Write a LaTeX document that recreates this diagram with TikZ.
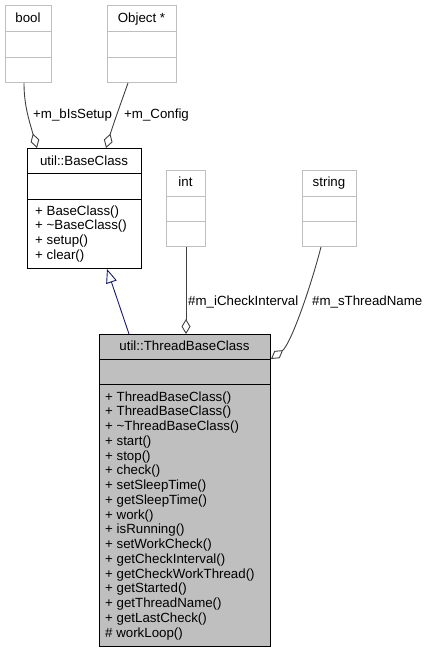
\documentclass[tikz,border=0pt]{standalone}
\usepackage{fontspec}
\setmainfont{Liberation Sans}
\usetikzlibrary{arrows.meta}
\definecolor{EdgeGray}{RGB}{64,64,64}
\definecolor{BoxGray}{RGB}{191,191,191}
\definecolor{InhBlue}{RGB}{25,25,112}

\begin{document}
\begin{tikzpicture}[x=1pt, y=-1pt, font=\fontsize{13.3}{14.7}\selectfont,
    typebox/.style={draw=BoxGray, fill=white, line width=1pt, anchor=north west, inner sep=0pt},
    classbox/.style={draw=black, line width=1pt, anchor=north west, inner sep=0pt},
    txt/.style={inner sep=0pt, anchor=base},
    meth/.style={inner sep=0pt, anchor=base west},
    aggr/.style={draw=EdgeGray, line width=0.9pt, {Diamond[open, length=15pt, width=9pt]}-},
    inh/.style={draw=InhBlue, line width=0.9pt, {Triangle[open, length=14pt, width=11pt]}-}]
          \path[use as bounding box, fill=white] (0,0) rectangle (424,651);
          % member types
          \node[typebox, minimum width=46, minimum height=77] (bool) at (5,5) {};
          \draw[BoxGray, line width=1pt] ([yshift=-26pt]bool.north west) -- ([yshift=-26pt]bool.north east);
          \draw[BoxGray, line width=1pt] ([yshift=-52pt]bool.north west) -- ([yshift=-52pt]bool.north east);
          \node[txt] (boolname) at (28,22) {bool};
          \node[typebox, minimum width=69, minimum height=77] (obj) at (107,5) {};
          \draw[BoxGray, line width=1pt] ([yshift=-26pt]obj.north west) -- ([yshift=-26pt]obj.north east);
          \draw[BoxGray, line width=1pt] ([yshift=-52pt]obj.north west) -- ([yshift=-52pt]obj.north east);
          \node[txt] (objname) at (141.5,22) {Object *};
          \node[typebox, minimum width=39, minimum height=76] (int) at (166,170) {};
          \draw[BoxGray, line width=1pt] ([yshift=-26pt]int.north west) -- ([yshift=-26pt]int.north east);
          \draw[BoxGray, line width=1pt] ([yshift=-51pt]int.north west) -- ([yshift=-51pt]int.north east);
          \node[txt] (intname) at (185.5,186) {int};
          \node[typebox, minimum width=54, minimum height=76] (str) at (302,170) {};
          \draw[BoxGray, line width=1pt] ([yshift=-26pt]str.north west) -- ([yshift=-26pt]str.north east);
          \draw[BoxGray, line width=1pt] ([yshift=-51pt]str.north west) -- ([yshift=-51pt]str.north east);
          \node[txt] (strname) at (329,186) {string};
          % base class
          \node[classbox, fill=white, minimum width=114, minimum height=120] (base) at (27,148) {};
          \draw[line width=1pt] ([yshift=-25pt]base.north west) -- ([yshift=-25pt]base.north east);
          \draw[line width=1pt] ([yshift=-51pt]base.north west) -- ([yshift=-51pt]base.north east);
          \node[txt] (basename) at (84,165) {util::BaseClass};
          \foreach \m [count=\i from 0] in {+ BaseClass(), + \textasciitilde BaseClass(), + setup(), + clear()}
            \node[meth] (bm\i) at (35,215+14.7*\i) {\m};
          % thread class
          \node[classbox, fill=BoxGray, minimum width=171, minimum height=312] (thread) at (99,334) {};
          \draw[line width=1pt] ([yshift=-25pt]thread.north west) -- ([yshift=-25pt]thread.north east);
          \draw[line width=1pt] ([yshift=-50pt]thread.north west) -- ([yshift=-50pt]thread.north east);
          \node[txt] (threadname) at (184.5,350) {util::ThreadBaseClass};
          \foreach \m [count=\i from 0] in {+ ThreadBaseClass(), + ThreadBaseClass(), + \textasciitilde ThreadBaseClass(),
              + start(), + stop(), + check(), + setSleepTime(), + getSleepTime(), + work(), + isRunning(),
              + setWorkCheck(), + getCheckInterval(), + getCheckWorkThread(), + getStarted(),
              + getThreadName(), + getLastCheck(), \# workLoop()}
            \node[meth] (tm\i) at (105,401+14.75*\i) {\m};
          % connectors
          \draw[aggr] ([xshift=10pt]base.north west) .. controls (29,120) and (24,105) .. ([xshift=19pt]bool.south west);
          \draw[aggr] ([xshift=79pt]base.north west) .. controls (114,122) and (122,100) .. ([xshift=21pt]obj.south west);
          \draw[aggr] (int.south |- thread.north) -- (int.south);
          \draw[aggr] ([yshift=-25pt]thread.north east) .. controls (290,345) and (309,293) .. ([xshift=19pt]str.south west);
          \draw[inh] ([xshift=80pt]base.south west) -- ([xshift=30pt]thread.north west);
          \node[meth] (lblsetup) at (33,118) {+m\_bIsSetup};
          \node[meth] (lblconfig) at (124,118) {+m\_Config};
          \node[meth] (lblinterval) at (188,305) {\#m\_iCheckInterval};
          \node[meth] (lblname) at (312,305) {\#m\_sThreadName};
        \end{tikzpicture}
\end{document}
